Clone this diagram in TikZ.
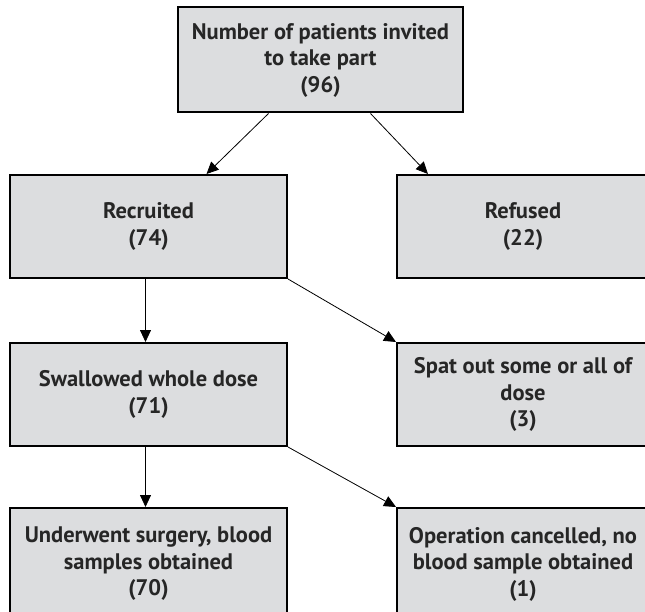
\documentclass[tikz,border=0pt]{standalone}
\usepackage{fontspec}
\setmainfont{PT Sans}
\usetikzlibrary{arrows.meta}

\tikzset{
  box/.style={draw=black, line width=2pt, fill=boxgray, minimum height=103pt,
    align=center, font=\bfseries\fontsize{22.5}{26.5}\selectfont, text=black!85},
  arr/.style={-{Triangle[length=12pt,width=11pt]}, line width=0.8pt}
}
\definecolor{boxgray}{RGB}{220,221,223}

\begin{document}
\begin{tikzpicture}[x=1pt,y=1pt]
\useasboundingbox (0,0) rectangle (645,-612);
\clip (0,0) rectangle (645,-612);
\fill[white] (0,0) rectangle (645,-612);

% boxes
\node[box, minimum width=285pt, minimum height=105pt] (invited) at (320.5,-60) {Number of patients invited\\to take part\\(96)};
\node[box, minimum width=277pt] (recruited) at (148.5,-226.5) {Recruited\\(74)};
\node[box, minimum width=252pt] (refused) at (523,-226.5) {Refused\\(22)};
\node[box, minimum width=277pt] (swallowed) at (148.5,-394.5) {Swallowed whole dose\\(71)};
\node[box, minimum width=252pt] (spat) at (523,-394.5) {Spat out some or all of\\dose\\(3)};
\node[box, minimum width=277pt, minimum height=112pt] (surgery) at (148.5,-564) {Underwent surgery, blood\\samples obtained\\(70)};
\node[box, minimum width=252pt, minimum height=112pt] (cancelled) at (523,-564) {Operation cancelled, no\\blood sample obtained\\(1)};

% arrows
\draw[arr] ([xshift=-52pt]invited.south) -- ([xshift=58pt]recruited.north);
\draw[arr] ([xshift=50pt]invited.south) -- ([xshift=-95pt]refused.north);
\draw[arr] ([xshift=-3pt]recruited.south) -- ([xshift=-3pt]swallowed.north);
\draw[arr] (recruited.south east) -- (spat.north west);
\draw[arr] ([xshift=-3pt]swallowed.south) -- ([xshift=-3pt]surgery.north);
\draw[arr] (swallowed.south east) -- (cancelled.north west);
\end{tikzpicture}
\end{document}
